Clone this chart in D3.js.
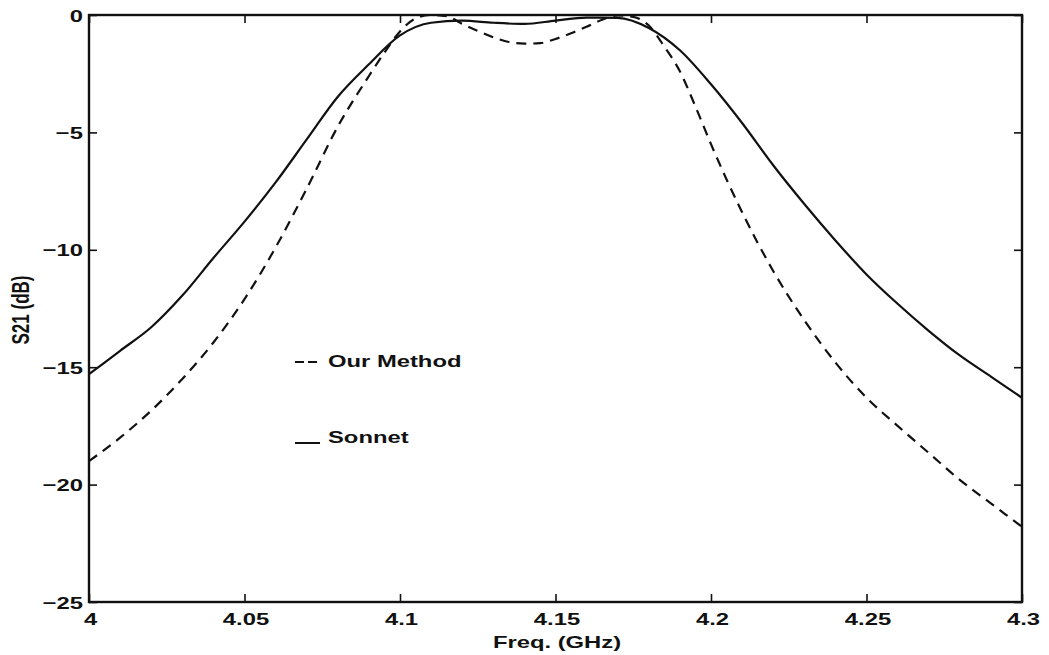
<!DOCTYPE html>
<html>
<head>
<meta charset="utf-8">
<script src="https://cdn.jsdelivr.net/npm/d3@7"></script>
<style>
  html, body { margin: 0; padding: 0; background: #fff; }
  svg { display: block; }
  text { font-family: "Liberation Sans", Arial, Helvetica, sans-serif; font-weight: bold; fill: #111; }
</style>
</head>
<body>
<svg id="chart" width="1049" height="655"></svg>
<script>
// Frequency samples (GHz) and S21 (dB) for the Sonnet simulation
const sonnetFreq = [4.00, 4.01, 4.02, 4.03, 4.04, 4.05, 4.06, 4.07, 4.08, 4.09,
                    4.10, 4.11, 4.12, 4.13, 4.14, 4.15, 4.16, 4.17, 4.18, 4.19,
                    4.20, 4.21, 4.22, 4.23, 4.24, 4.25, 4.26, 4.27, 4.28, 4.29, 4.30];
const sonnetS21 = [-15.3, -14.3, -13.3, -11.95, -10.35, -8.8, -7.13, -5.3, -3.48, -2.1,
                   -0.87, -0.33, -0.24, -0.33, -0.38, -0.24, -0.11, -0.12, -0.55, -1.5,
                   -2.95, -4.6, -6.4, -8.05, -9.6, -11.05, -12.3, -13.45, -14.5, -15.4, -16.3];

// Frequency samples (GHz) and S21 (dB) for our method
const methodFreq = [4.00, 4.01, 4.02, 4.03, 4.04, 4.05, 4.06, 4.07, 4.08, 4.09,
                    4.095, 4.10, 4.105, 4.11, 4.115, 4.12, 4.125, 4.13, 4.135, 4.14,
                    4.145, 4.15, 4.155, 4.16, 4.165, 4.17, 4.175, 4.18, 4.185, 4.19,
                    4.195, 4.20, 4.21, 4.22, 4.23, 4.24, 4.25, 4.26, 4.27, 4.28, 4.29, 4.30];
const methodS21 = [-19.0, -18.0, -16.85, -15.5, -13.95, -12.1, -9.9, -7.4, -4.75, -2.6,
                   -1.6, -0.7, -0.15, 0.0, -0.05, -0.38, -0.68, -0.95, -1.15, -1.22,
                   -1.2, -1.02, -0.78, -0.5, -0.2, -0.02, -0.08, -0.45, -1.35, -2.4,
                   -3.9, -5.5, -8.4, -10.9, -13.0, -14.8, -16.3, -17.5, -18.65, -19.8, -20.8, -21.8];

const xTicks = [4, 4.05, 4.1, 4.15, 4.2, 4.25, 4.3];
const xTickLabels = ["4", "4.05", "4.1", "4.15", "4.2", "4.25", "4.3"];
const yTicks = [0, -5, -10, -15, -20, -25];
const yTickLabels = ["0", "\u22125", "\u221210", "\u221215", "\u221220", "\u221225"];

const seriesNames = ["Our Method", "Sonnet"];

const svg = d3.select("#chart");
const W = 1049, H = 655;
const m = { left: 89, right: 1022, top: 15, bottom: 602 };
const SX = 1.4; // horizontal stretch of the lettering

svg.append("rect").attr("width", W).attr("height", H).attr("fill", "#fff");

const x = d3.scaleLinear().domain([4, 4.3]).range([m.left, m.right]);
const y = d3.scaleLinear().domain([-25, 0]).range([m.bottom, m.top]);

const TICK = 8;

// Axes with inward ticks on all four sides
const gBottom = svg.append("g").attr("transform", `translate(0,${m.bottom})`)
  .call(d3.axisBottom(x).tickValues(xTicks).tickSizeInner(-TICK).tickSizeOuter(0)
        .tickFormat((d, i) => xTickLabels[i]));
const gTop = svg.append("g").attr("transform", `translate(0,${m.top})`)
  .call(d3.axisTop(x).tickValues(xTicks).tickSizeInner(-TICK).tickSizeOuter(0).tickFormat(""));
const gLeft = svg.append("g").attr("transform", `translate(${m.left},0)`)
  .call(d3.axisLeft(y).tickValues(yTicks).tickSizeInner(-TICK).tickSizeOuter(0)
        .tickFormat((d, i) => yTickLabels[i]));
const gRight = svg.append("g").attr("transform", `translate(${m.right},0)`)
  .call(d3.axisRight(y).tickValues(yTicks).tickSizeInner(-TICK).tickSizeOuter(0).tickFormat(""));

[gBottom, gTop, gLeft, gRight].forEach(g => {
  g.select(".domain").remove();
  g.selectAll(".tick line").attr("stroke", "#111").attr("stroke-width", 1.6);
});

gBottom.selectAll(".tick text")
  .attr("y", null).attr("dy", null)
  .attr("transform", `translate(1,23) scale(${SX},1)`)
  .attr("font-size", 17).attr("fill", "#111");
gLeft.selectAll(".tick text")
  .attr("x", null).attr("dy", null)
  .attr("transform", `translate(-6,6) scale(${SX},1)`)
  .attr("font-size", 17).attr("fill", "#111");

// Plot frame
svg.append("rect")
  .attr("x", m.left).attr("y", m.top)
  .attr("width", m.right - m.left).attr("height", m.bottom - m.top)
  .attr("fill", "none").attr("stroke", "#111").attr("stroke-width", 2.4);

// Curves
svg.append("clipPath").attr("id", "plotClip").append("rect")
  .attr("x", m.left).attr("y", m.top - 2).attr("width", m.right - m.left).attr("height", m.bottom - m.top + 2);

const sonnetLine = d3.line().x((d, i) => x(sonnetFreq[i])).y(d => y(d)).curve(d3.curveMonotoneX);
const methodLine = d3.line().x((d, i) => x(methodFreq[i])).y(d => y(d)).curve(d3.curveMonotoneX);

const plot = svg.append("g").attr("clip-path", "url(#plotClip)");
plot.append("path").datum(methodS21).attr("d", methodLine)
  .attr("fill", "none").attr("stroke", "#111").attr("stroke-width", 2.2)
  .attr("stroke-dasharray", "10,7");
plot.append("path").datum(sonnetS21).attr("d", sonnetLine)
  .attr("fill", "none").attr("stroke", "#111").attr("stroke-width", 2.2);

// Legend
const legend = svg.append("g");
legend.append("line").attr("x1", 295).attr("x2", 318).attr("y1", 362).attr("y2", 362)
  .attr("stroke", "#111").attr("stroke-width", 2).attr("stroke-dasharray", "9,4");
legend.append("text").attr("transform", `translate(328,367) scale(${SX},1)`)
  .attr("font-size", 17).text(seriesNames[0]);
legend.append("line").attr("x1", 295).attr("x2", 320).attr("y1", 443).attr("y2", 443)
  .attr("stroke", "#111").attr("stroke-width", 2);
legend.append("text").attr("transform", `translate(328,443) scale(${SX},1)`)
  .attr("font-size", 17).text(seriesNames[1]);

// Axis titles
svg.append("text").attr("transform", `translate(557,648) scale(${SX},1)`)
  .attr("text-anchor", "middle").attr("font-size", 17).text("Freq. (GHz)");
svg.append("text").attr("transform", `translate(29,310) rotate(-90) scale(1,${SX})`)
  .attr("text-anchor", "middle").attr("font-size", 17).text("S21 (dB)");
</script>
</body>
</html>
